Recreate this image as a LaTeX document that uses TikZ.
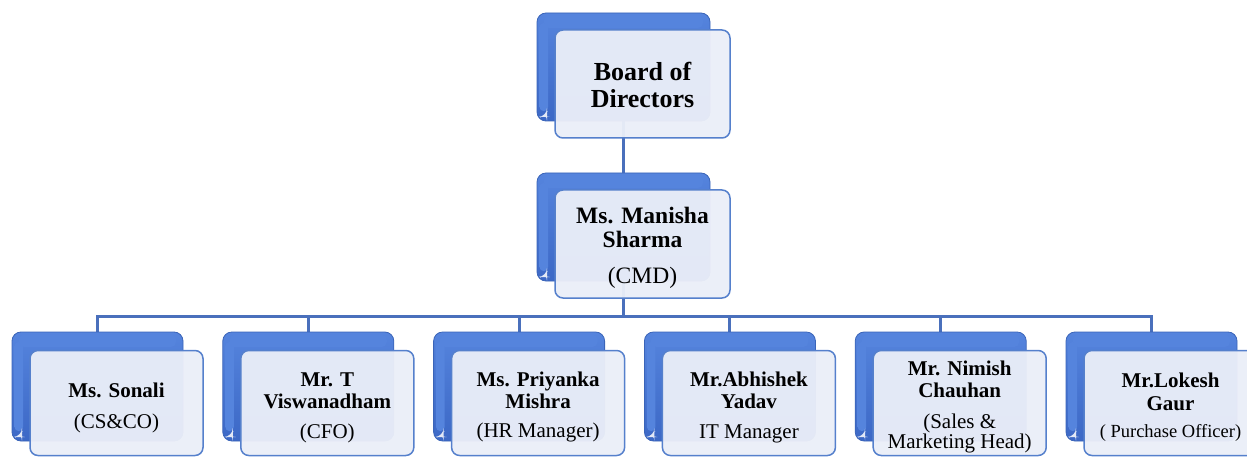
\documentclass[tikz,border=0pt]{standalone}
\usepackage{fontspec}
\setmainfont{Liberation Serif}
\definecolor{bltop}{HTML}{5584DD}
\definecolor{blbot}{HTML}{3C68C6}
\definecolor{blhi}{HTML}{C4D6F8}
\definecolor{blside}{HTML}{8CABEE}
\definecolor{bledge}{HTML}{3A64B8}
\definecolor{frfill}{HTML}{EAEEF8}
\definecolor{frline}{HTML}{5580CC}
\definecolor{conncol}{HTML}{4A70BC}
\pgfdeclarelayer{bg}
\pgfsetlayers{bg,main}
\tikzset{
  backbox/.style={rectangle, rounded corners=9pt, inner sep=0pt, outer sep=0pt,
    draw=bledge, line width=0.8pt, top color=bltop, bottom color=blbot,
    path picture={
      \shade[rounded corners=5pt, top color=bltop, middle color=blhi, bottom color=bltop]
        ([xshift=7pt,yshift=-2.5pt]path picture bounding box.north west) rectangle
        ([xshift=-7pt,yshift=-15pt]path picture bounding box.north east);
      \shade[left color=bltop, middle color=blside, right color=bltop, rounded corners=4pt]
        ([xshift=2.5pt,yshift=-10pt]path picture bounding box.north west) rectangle
        ([xshift=11pt,yshift=10pt]path picture bounding box.south west);
      \fill[white, opacity=0.85]
        ([xshift=4pt,yshift=4pt]path picture bounding box.south west) --
        ([xshift=10pt,yshift=4pt]path picture bounding box.south west) --
        ([xshift=10pt,yshift=9pt]path picture bounding box.south west) -- cycle;
    }},
  frontbox/.style={rectangle, rounded corners=8pt, inner sep=0pt, outer sep=0pt,
    draw=frline, line width=1.5pt, fill=frfill, fill opacity=0.96},
  txt/.style={align=center, inner sep=0pt, anchor=north, text=black},
  link/.style={draw=conncol, line width=3pt},
  bigback/.style={backbox, minimum width=173pt, minimum height=108pt},
  bigfront/.style={frontbox, minimum width=175pt, minimum height=108pt},
  smallback/.style={backbox, minimum width=171pt, minimum height=109pt},
  smallfront/.style={frontbox, minimum width=173pt, minimum height=105pt},
  btxt/.style={txt, font=\fontsize{21}{22}\selectfont},
}
\begin{document}
\begin{tikzpicture}[x=1pt, y=-1pt]
\useasboundingbox (0,0) rectangle (1247,457);
% top
\node[bigback] (b0) at (623.5,67) {};
\node[bigfront] (f0) at (642.5,84) {};
\node[txt, font=\fontsize{26}{27}\selectfont\bfseries] (t0) at (642.5,60)
  {\rule{0pt}{20pt}Board of\\Directors};
% middle
\node[bigback] (b1) at (623.5,227) {};
\node[bigfront] (f1) at (642.5,244) {};
\node[txt, font=\fontsize{23.5}{24}\selectfont] (t1) at (642.5,205)
  {\rule{0pt}{18pt}\textbf{Ms. Manisha}\\\textbf{Sharma}\\[12pt](CMD)};
% bottom row
\node[smallback] (b2) at (97.5,386.5) {};
\node[smallfront] (f2) at (116.5,403) {};
\node[btxt] (t2) at (116.5,381)
  {\rule{0pt}{16pt}\textbf{Ms. Sonali}\\[9pt](CS\&CO)};
\node[smallback] (b3) at (308.3,386.5) {};
\node[smallfront] (f3) at (327.3,403) {};
\node[btxt] (t3) at (327.3,370.5)
  {\rule{0pt}{16pt}\textbf{Mr. T}\\\textbf{Viswanadham}\\[7.5pt](CFO)};
\node[smallback] (b4) at (519.1,386.5) {};
\node[smallfront] (f4) at (538.1,403) {};
\node[btxt] (t4) at (538.1,370)
  {\rule{0pt}{16pt}\textbf{Ms. Priyanka}\\\textbf{Mishra}\\[7.5pt](HR Manager)};
\node[smallback] (b5) at (729.9,386.5) {};
\node[smallfront] (f5) at (748.9,403) {};
\node[btxt] (t5) at (748.9,370)
  {\rule{0pt}{16pt}\textbf{Mr.Abhishek}\\\textbf{Yadav}\\[8pt]IT Manager};
\node[smallback] (b6) at (940.7,386.5) {};
\node[smallfront] (f6) at (959.7,403) {};
\node[btxt] (t6) at (959.7,359)
  {\rule{0pt}{16pt}\textbf{Mr. Nimish}\\\textbf{Chauhan}\\[9pt](Sales \&\\[-2pt]Marketing Head)};
\node[smallback] (b7) at (1151.5,386.5) {};
\node[smallfront] (f7) at (1170.5,403) {};
\node[btxt] (t7) at (1170.5,371)
  {\rule{0pt}{16pt}\textbf{Mr.Lokesh}\\[1pt]\textbf{Gaur}\\[5pt]{\fontsize{18.5}{22}\selectfont ( Purchase Officer)}};
% connectors
\begin{pgfonlayer}{bg}
\coordinate (bar) at (623.5,316);
\draw[link] (b0.south) -- (b1.north);
\draw[link] (b1.south) -- (bar);
\draw[link, line cap=rect] (b2.north |- bar) -- (b7.north |- bar);
\foreach \n in {2,...,7} \draw[link] (b\n.north |- bar) -- (b\n.north);
\end{pgfonlayer}
\end{tikzpicture}
\end{document}
